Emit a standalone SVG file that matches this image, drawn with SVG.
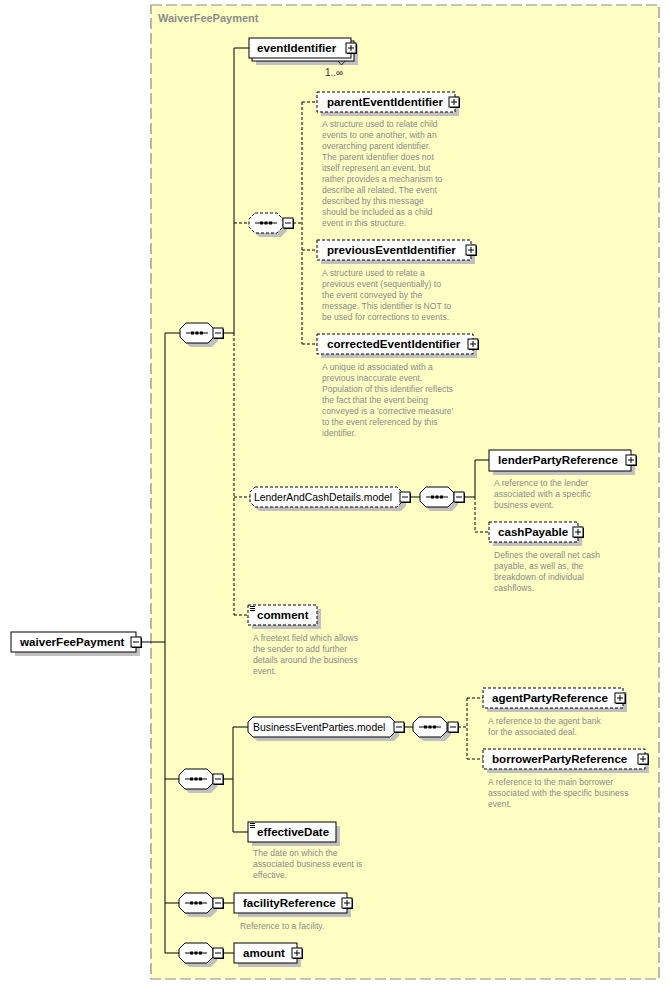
<svg xmlns="http://www.w3.org/2000/svg" width="670" height="985" viewBox="0 0 670 985">
<defs>
<style>
.bg{fill:#ffffc4;stroke:#8a8a8a;stroke-width:1.2;stroke-dasharray:11,4}
.title{font-family:"Liberation Sans",Arial,sans-serif;font-size:11px;font-weight:bold;fill:#8c8c8c}
.box{fill:#fff;stroke:#000;stroke-width:1}
.dbox{fill:#fff;stroke:#000;stroke-width:1;stroke-dasharray:3,2}
.sh{fill:#c0c0c0}
.name{font-family:"Liberation Sans",Arial,sans-serif;font-size:11.6px;font-weight:bold;fill:#000}
.model{font-family:"Liberation Sans",Arial,sans-serif;font-size:10.4px;fill:#000}
.desc{font-family:"Liberation Sans",Arial,sans-serif;font-size:8.6px;fill:#8a8a8a}
.mult{font-family:"Liberation Sans",Arial,sans-serif;font-size:10px;fill:#402040}
.ln{stroke:#000;stroke-width:1;fill:none}
.dl{stroke:#000;stroke-width:1;fill:none;stroke-dasharray:3,2}
</style>
<g id="plus">
<rect x="1" y="1" width="10" height="10" fill="#000"/>
<rect x="0" y="0" width="10" height="10" fill="#fff" stroke="#000"/>
<path d="M2,5H8M5,2V8" stroke="#000" stroke-width="1"/>
</g>
<g id="minus">
<rect x="1" y="1" width="10" height="10" fill="#000"/>
<rect x="0" y="0" width="10" height="10" fill="#fff" stroke="#000"/>
<path d="M2,5H8" stroke="#000" stroke-width="1"/>
</g>
<g id="seqsym">
<path d="M6,10H28" stroke="#000" stroke-width="1"/>
<rect x="11" y="8.5" width="3" height="3" fill="#000"/>
<rect x="15.5" y="8.5" width="3" height="3" fill="#000"/>
<rect x="20" y="8.5" width="3" height="3" fill="#000"/>
</g>
<path id="oct" d="M6,0H28L34,6V14L28,20H6L0,14V6Z"/>
<g id="doc">
<path d="M0,0.5H5M0,2.5H5M0,4.5H5" stroke="#000" stroke-width="1"/>
</g>
</defs>

<rect class="bg" x="151" y="5" width="508" height="974"/>
<text class="title" x="158" y="22">WaiverFeePayment</text>

<g id="connectors">
<path class="ln" d="M142,642H165M165,333V953"/>
<path class="ln" d="M165,333H180M165,779H179M165,903H179M165,953H179"/>
<path class="ln" d="M223,333H234M234,48V333M234,48H249"/>
<path class="dl" d="M234,333V615M234,223H249M234,497H250M234,615H248"/>
<path class="dl" d="M293,223H302M302,102V344M302,102H317M302,250H317M302,344H317"/>
<path class="ln" d="M410,497H420M464,497H475M475,460V497M475,460H489"/>
<path class="dl" d="M475,497V532M475,532H489"/>
<path class="ln" d="M223,779H233M233,727V832M233,727H248M233,832H248"/>
<path class="ln" d="M404,727H413"/>
<path class="dl" d="M458,727H467M467,698V759M467,698H483M467,759H483"/>
<path class="ln" d="M223,903H234M223,953H234"/>
</g>

<g id="waiverFeePayment">
<rect class="sh" x="15" y="636" width="125" height="20"/>
<rect class="box" x="11" y="632" width="125" height="20"/>
<text class="name" x="20" y="646">waiverFeePayment</text>
<use href="#minus" x="131" y="637"/>
</g>

<g id="seq1">
<use href="#oct" x="184" y="327" class="sh"/>
<use href="#oct" x="180" y="323" class="box"/>
<use href="#seqsym" x="180" y="323"/>
<use href="#minus" x="213" y="328"/>
</g>

<g id="eventIdentifier">
<rect class="sh" x="256" y="45" width="102" height="20"/>
<rect class="box" x="252" y="41" width="102" height="20"/>
<rect class="box" x="249" y="38" width="102" height="20"/>
<text class="name" x="257" y="52">eventIdentifier</text>
<use href="#plus" x="346" y="43"/>
<path d="M338,61L341.5,65L345,61" stroke="#000" stroke-width="0.8" fill="none"/>
<text class="mult" x="325" y="76">1..∞</text>
</g>

<g id="choiceSeq">
<use href="#oct" x="253" y="217" class="sh"/>
<use href="#oct" x="249" y="213" class="dbox"/>
<use href="#seqsym" x="249" y="213"/>
<use href="#minus" x="283" y="218"/>
</g>

<g id="parentEventIdentifier">
<rect class="sh" x="321" y="96" width="138" height="20"/>
<rect class="dbox" x="317" y="92" width="138" height="20"/>
<text class="name" x="327" y="106">parentEventIdentifier</text>
<use href="#plus" x="449" y="97"/>
<text class="desc" x="322" y="127">A structure used to relate child</text>
<text class="desc" x="322" y="138">events to one another, with an</text>
<text class="desc" x="322" y="149">overarching parent identifier.</text>
<text class="desc" x="322" y="160">The parent identifier does not</text>
<text class="desc" x="322" y="171">itself represent an event, but</text>
<text class="desc" x="322" y="182">rather provides a mechanism to</text>
<text class="desc" x="322" y="193">describe all related. The event</text>
<text class="desc" x="322" y="204">described by this message</text>
<text class="desc" x="322" y="215">should be included as a child</text>
<text class="desc" x="322" y="226">event in this structure.</text>
</g>

<g id="previousEventIdentifier">
<rect class="sh" x="321" y="244" width="154" height="20"/>
<rect class="dbox" x="317" y="240" width="154" height="20"/>
<text class="name" x="327" y="254">previousEventIdentifier</text>
<use href="#plus" x="466" y="245"/>
<text class="desc" x="322" y="276">A structure used to relate a</text>
<text class="desc" x="322" y="287">previous event (sequentially) to</text>
<text class="desc" x="322" y="298">the event conveyed by the</text>
<text class="desc" x="322" y="309">message. This identifier is NOT to</text>
<text class="desc" x="322" y="320">be used for corrections to events.</text>
</g>

<g id="correctedEventIdentifier">
<rect class="sh" x="321" y="338" width="156" height="20"/>
<rect class="dbox" x="317" y="334" width="156" height="20"/>
<text class="name" x="327" y="348">correctedEventIdentifier</text>
<use href="#plus" x="468" y="339"/>
<text class="desc" x="322" y="370">A unique id associated with a</text>
<text class="desc" x="322" y="381">previous inaccurate event.</text>
<text class="desc" x="322" y="392">Population of this identifier reflects</text>
<text class="desc" x="322" y="403">the fact that the event being</text>
<text class="desc" x="322" y="414">conveyed is a 'corrective measure'</text>
<text class="desc" x="322" y="425">to the event referenced by this</text>
<text class="desc" x="322" y="436">identifier.</text>
</g>

<g id="LenderAndCashDetails.model">
<path class="sh" d="M259,491H401L406,496V506L401,511H259L254,506V496Z"/>
<path class="dbox" d="M255,487H397L402,492V502L397,507H255L250,502V492Z"/>
<text class="model" x="254" y="501">LenderAndCashDetails.model</text>
<use href="#minus" x="400" y="492"/>
</g>

<g id="seqLender">
<use href="#oct" x="424" y="491" class="sh"/>
<use href="#oct" x="420" y="487" class="box"/>
<use href="#seqsym" x="420" y="487"/>
<use href="#minus" x="454" y="492"/>
</g>

<g id="lenderPartyReference">
<rect class="sh" x="493" y="454" width="142" height="21"/>
<rect class="box" x="489" y="450" width="142" height="21"/>
<text class="name" x="498" y="464">lenderPartyReference</text>
<use href="#plus" x="626" y="455"/>
<text class="desc" x="494" y="486">A reference to the lender</text>
<text class="desc" x="494" y="497">associated with a specific</text>
<text class="desc" x="494" y="508">business event.</text>
</g>

<g id="cashPayable">
<rect class="sh" x="493" y="526" width="89" height="20"/>
<rect class="dbox" x="489" y="522" width="89" height="20"/>
<text class="name" x="498" y="536">cashPayable</text>
<use href="#plus" x="573" y="527"/>
<text class="desc" x="494" y="558">Defines the overall net cash</text>
<text class="desc" x="494" y="569">payable, as well as, the</text>
<text class="desc" x="494" y="580">breakdown of individual</text>
<text class="desc" x="494" y="591">cashflows.</text>
</g>

<g id="comment">
<rect class="sh" x="252" y="609" width="69" height="20"/>
<rect class="dbox" x="248" y="605" width="69" height="20"/>
<use href="#doc" x="250" y="606"/>
<text class="name" x="257" y="619">comment</text>
<text class="desc" x="253" y="641">A freetext field which allows</text>
<text class="desc" x="253" y="652">the sender to add further</text>
<text class="desc" x="253" y="663">details around the business</text>
<text class="desc" x="253" y="674">event.</text>
</g>

<g id="seq2">
<use href="#oct" x="183" y="773" class="sh"/>
<use href="#oct" x="179" y="769" class="box"/>
<use href="#seqsym" x="179" y="769"/>
<use href="#minus" x="213" y="774"/>
</g>

<g id="BusinessEventParties.model">
<path class="sh" d="M257,721H394L399,726V736L394,741H257L252,736V726Z"/>
<path class="box" d="M253,717H390L395,722V732L390,737H253L248,732V722Z"/>
<text class="model" x="253" y="731">BusinessEventParties.model</text>
<use href="#minus" x="394" y="722"/>
</g>

<g id="seqBEP">
<use href="#oct" x="417" y="721" class="sh"/>
<use href="#oct" x="413" y="717" class="box"/>
<use href="#seqsym" x="413" y="717"/>
<use href="#minus" x="448" y="722"/>
</g>

<g id="agentPartyReference">
<rect class="sh" x="487" y="692" width="140" height="20"/>
<rect class="dbox" x="483" y="688" width="140" height="20"/>
<text class="name" x="492" y="702">agentPartyReference</text>
<use href="#plus" x="615" y="693"/>
<text class="desc" x="488" y="724">A reference to the agent bank</text>
<text class="desc" x="488" y="735">for the associated deal.</text>
</g>

<g id="borrowerPartyReference">
<rect class="sh" x="487" y="753" width="162" height="20"/>
<rect class="dbox" x="483" y="749" width="162" height="20"/>
<text class="name" x="492" y="763">borrowerPartyReference</text>
<use href="#plus" x="638" y="754"/>
<text class="desc" x="488" y="785">A reference to the main borrower</text>
<text class="desc" x="488" y="796">associated with the specific business</text>
<text class="desc" x="488" y="807">event.</text>
</g>

<g id="effectiveDate">
<rect class="sh" x="252" y="826" width="88" height="20"/>
<rect class="box" x="248" y="822" width="88" height="20"/>
<use href="#doc" x="250" y="823"/>
<text class="name" x="257" y="836">effectiveDate</text>
<text class="desc" x="253" y="856">The date on which the</text>
<text class="desc" x="253" y="867">associated business event is</text>
<text class="desc" x="253" y="878">effective.</text>
</g>

<g id="seq3">
<use href="#oct" x="183" y="897" class="sh"/>
<use href="#oct" x="179" y="893" class="box"/>
<use href="#seqsym" x="179" y="893"/>
<use href="#minus" x="213" y="898"/>
</g>

<g id="facilityReference">
<rect class="sh" x="238" y="897" width="113" height="20"/>
<rect class="box" x="234" y="893" width="113" height="20"/>
<text class="name" x="243" y="907">facilityReference</text>
<use href="#plus" x="342" y="898"/>
<text class="desc" x="240" y="929">Reference to a facility.</text>
</g>

<g id="seq4">
<use href="#oct" x="183" y="947" class="sh"/>
<use href="#oct" x="179" y="943" class="box"/>
<use href="#seqsym" x="179" y="943"/>
<use href="#minus" x="213" y="948"/>
</g>

<g id="amount">
<rect class="sh" x="238" y="947" width="63" height="20"/>
<rect class="box" x="234" y="943" width="63" height="20"/>
<text class="name" x="243" y="957">amount</text>
<use href="#plus" x="292" y="948"/>
</g>
</svg>
